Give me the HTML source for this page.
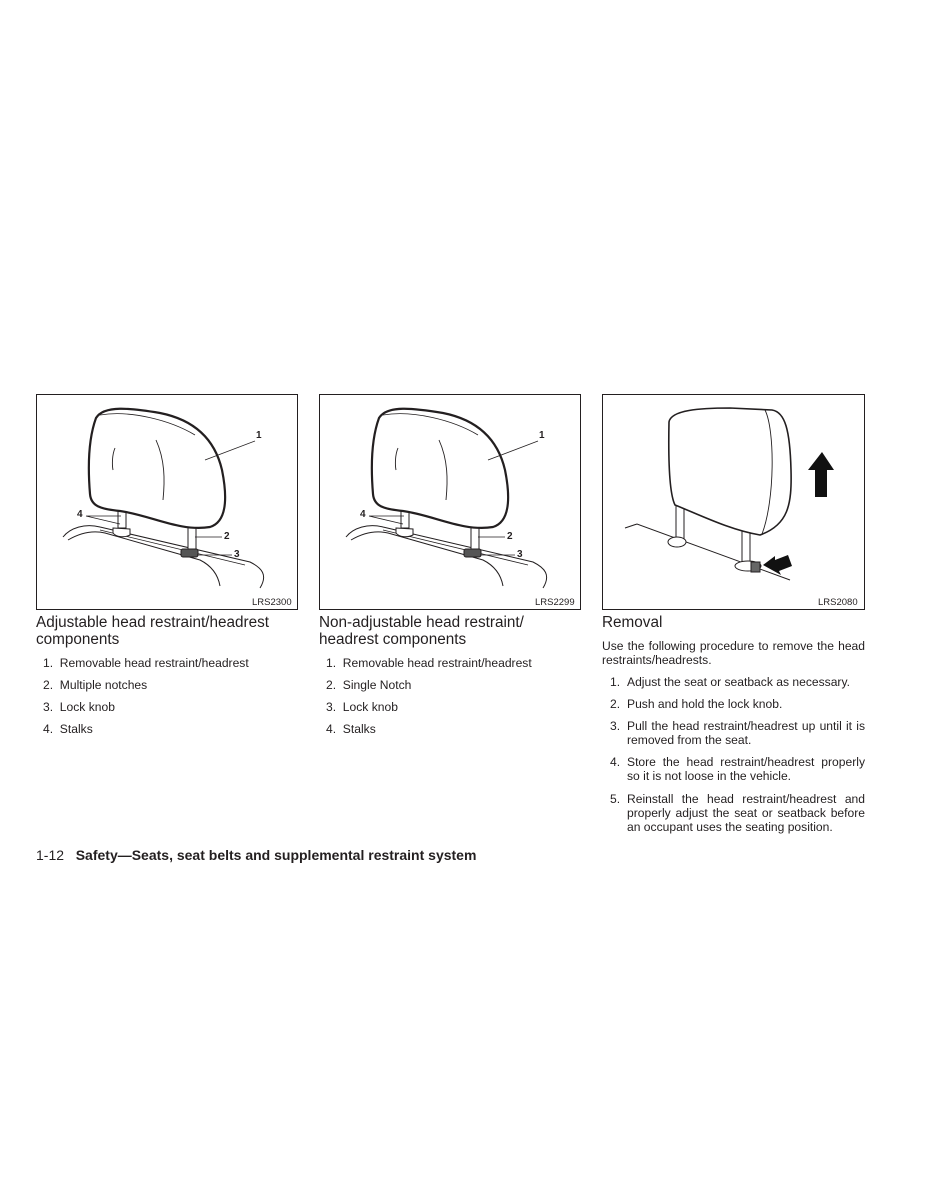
<!DOCTYPE html>
<html><head><meta charset="utf-8"><style>
body{margin:0;width:927px;height:1200px;background:#fff;position:relative;font-family:"Liberation Sans",sans-serif;color:#231f20;overflow:hidden}
.a{position:absolute;white-space:nowrap}
.t{font-size:15.3px;line-height:17px}
.l{font-size:12.1px}
.j{position:absolute;font-size:12.1px;line-height:14px;text-align:justify;white-space:normal}
</style></head><body>
<svg width="927" height="1200" style="position:absolute;left:0;top:0" fill="none" stroke="#231f20">
<rect x="36.5" y="394.5" width="261" height="215" stroke-width="1"/>
<rect x="319.5" y="394.5" width="261" height="215" stroke-width="1"/>
<rect x="602.5" y="394.5" width="262" height="215" stroke-width="1"/>
<g id="h1">
<path d="M63,537 C70,528 85,523 100,527 L250,562 C262,568 268,575 260,588" stroke-width="1"/>
<path d="M68,540 C80,533 92,530 105,533 L200,560 C212,566 218,575 220,586" stroke-width="1"/>
<path d="M100,530 L245,565" stroke-width="0.8"/>
<rect x="118" y="506" width="8" height="22" fill="#fff" stroke-width="1"/>
<rect x="188" y="524" width="8" height="26" fill="#fff" stroke-width="1"/>
<path d="M113,528 L130,529 L130,535 C124,538 116,537 113,533 Z" fill="#fff" stroke-width="1"/>
<rect x="181" y="549" width="17" height="8" rx="2" fill="#555" stroke-width="1"/>
<path d="M96,418 C104,405 130,408 160,413 C195,420 215,440 222,470 C228,500 226,522 210,527 C180,532 150,515 120,511 C100,509 91,506 90,494 C88,470 88,440 96,418 Z" fill="#fff" stroke-width="2.2"/>
<path d="M100,415 C130,410 170,420 195,435" stroke-width="0.8"/>
<path d="M115,448 C112,455 112,465 113,470" stroke-width="0.9"/>
<path d="M156,440 C165,460 165,480 163,500" stroke-width="0.9"/>
<path d="M205,460 L255,441" stroke-width="0.8"/>
<path d="M86,516 L121,516 M86,516 L120,524 M195,537 L222,537 M197,555 L232,555" stroke-width="0.8"/>
</g>
<use href="#h1" x="283" y="0"/>
<path d="M625,528 L637,524 L790,580" stroke-width="1"/>
<rect x="676" y="505" width="8" height="36" fill="#fff" stroke-width="1"/>
<ellipse cx="677" cy="542" rx="9" ry="5" fill="#fff" stroke-width="1"/>
<rect x="742" y="530" width="8" height="34" fill="#fff" stroke-width="1"/>
<ellipse cx="748" cy="566" rx="13" ry="5" fill="#fff" stroke-width="1"/>
<rect x="751" y="562" width="9" height="10" fill="#666" stroke-width="1"/>
<path d="M669,422 C671,410 700,408 730,408 L772,410 C785,412 790,430 791,470 C792,505 788,525 760,535 C730,530 700,515 675,505 C670,495 668,470 669,422 Z" fill="#fff" stroke-width="1.6"/>
<path d="M765,410 C775,430 775,500 762,534" stroke-width="0.9"/>
<path d="M822,452 L808,470 L815,470 L815,497 L827,497 L827,470 L834,470 Z" fill="#111" stroke="none"/>
<path d="M763,565 L775,556 L775,560 L788,555 L792,566 L779,571 L781,575 Z" fill="#111" stroke="none"/>
</svg>
<div class="a l" style="left:256px;top:430px;font-size:10px;font-weight:bold">1</div>
<div class="a l" style="left:77px;top:509px;font-size:10px;font-weight:bold">4</div>
<div class="a l" style="left:224px;top:531px;font-size:10px;font-weight:bold">2</div>
<div class="a l" style="left:234px;top:549px;font-size:10px;font-weight:bold">3</div>
<div class="a l" style="left:539px;top:430px;font-size:10px;font-weight:bold">1</div>
<div class="a l" style="left:360px;top:509px;font-size:10px;font-weight:bold">4</div>
<div class="a l" style="left:507px;top:531px;font-size:10px;font-weight:bold">2</div>
<div class="a l" style="left:517px;top:549px;font-size:10px;font-weight:bold">3</div>
<div class="a" style="left:252px;top:597px;font-size:9.5px">LRS2300</div>
<div class="a" style="left:535px;top:597px;font-size:9.5px">LRS2299</div>
<div class="a" style="left:818px;top:597px;font-size:9.5px">LRS2080</div>

<div class="a t" style="left:36px;top:614px">Adjustable head restraint/headrest<br>components</div>
<div class="a l" style="left:43px;top:656px">1.&nbsp; Removable head restraint/headrest</div>
<div class="a l" style="left:43px;top:678px">2.&nbsp; Multiple notches</div>
<div class="a l" style="left:43px;top:700px">3.&nbsp; Lock knob</div>
<div class="a l" style="left:43px;top:722px">4.&nbsp; Stalks</div>

<div class="a t" style="left:319px;top:614px">Non-adjustable head restraint/<br>headrest components</div>
<div class="a l" style="left:326px;top:656px">1.&nbsp; Removable head restraint/headrest</div>
<div class="a l" style="left:326px;top:678px">2.&nbsp; Single Notch</div>
<div class="a l" style="left:326px;top:700px">3.&nbsp; Lock knob</div>
<div class="a l" style="left:326px;top:722px">4.&nbsp; Stalks</div>

<div class="a t" style="left:602px;top:614px">Removal</div>
<div class="j" style="left:602px;top:639px;width:263px">Use the following procedure to remove the head restraints/headrests.</div>
<div class="a l" style="left:610px;top:675px">1.</div><div class="j" style="left:627px;top:675px;width:238px">Adjust the seat or seatback as necessary.</div>
<div class="a l" style="left:610px;top:697px">2.</div><div class="j" style="left:627px;top:697px;width:238px">Push and hold the lock knob.</div>
<div class="a l" style="left:610px;top:719px">3.</div><div class="j" style="left:627px;top:719px;width:238px">Pull the head restraint/headrest up until it is removed from the seat.</div>
<div class="a l" style="left:610px;top:755px">4.</div><div class="j" style="left:627px;top:755px;width:238px">Store the head restraint/headrest properly so it is not loose in the vehicle.</div>
<div class="a l" style="left:610px;top:792px">5.</div><div class="j" style="left:627px;top:792px;width:238px">Reinstall the head restraint/headrest and properly adjust the seat or seatback before an occupant uses the seating position.</div>

<div class="a" style="left:36px;top:847px;font-size:14px">1-12&nbsp;&nbsp; <b>Safety—Seats, seat belts and supplemental restraint system</b></div>
</body></html>
